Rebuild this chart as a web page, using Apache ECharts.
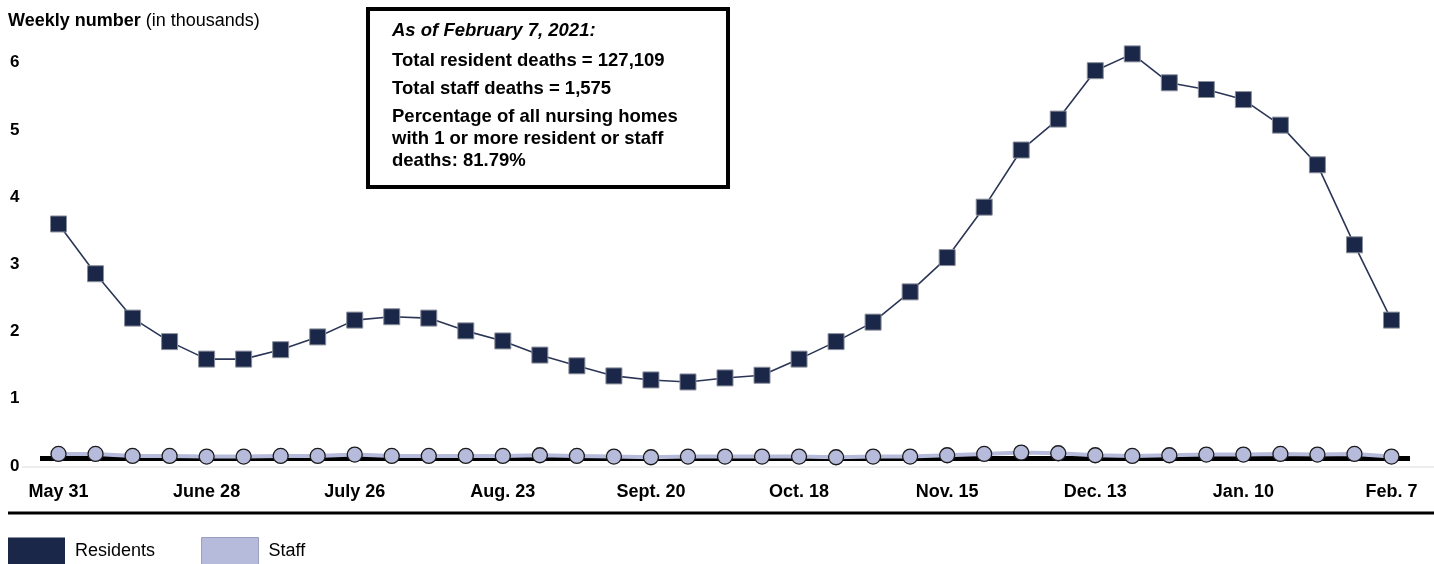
<!DOCTYPE html>
<html><head><meta charset="utf-8">
<script src="https://cdn.jsdelivr.net/npm/echarts@6/dist/echarts.min.js"></script>
<style>html,body{margin:0;padding:0;background:#fff}#c{width:1434px;height:564px}</style>
</head><body><div id="c"></div>
<script>
const weeks = ["May 31","Jun 7","Jun 14","Jun 21","June 28","Jul 5","Jul 12","Jul 19","July 26","Aug 2","Aug 9","Aug 16","Aug. 23","Aug 30","Sep 6","Sep 13","Sept. 20","Sep 27","Oct 4","Oct 11","Oct. 18","Oct 25","Nov 1","Nov 8","Nov. 15","Nov 22","Nov 29","Dec 6","Dec. 13","Dec 20","Dec 27","Jan 3","Jan. 10","Jan 17","Jan 24","Jan 31","Feb. 7"];
const residents = [3.60,2.86,2.20,1.85,1.59,1.59,1.73,1.92,2.17,2.22,2.20,2.01,1.86,1.65,1.49,1.34,1.28,1.25,1.31,1.35,1.59,1.85,2.14,2.59,3.10,3.85,4.70,5.16,5.88,6.13,5.70,5.60,5.45,5.07,4.48,3.29,2.17];
const staff = [0.18,0.18,0.15,0.15,0.14,0.14,0.15,0.15,0.17,0.15,0.15,0.15,0.15,0.16,0.15,0.14,0.13,0.14,0.14,0.14,0.14,0.13,0.14,0.14,0.16,0.18,0.20,0.19,0.16,0.15,0.16,0.17,0.17,0.18,0.17,0.18,0.14];
const baseline = 0.115;
const yTicks = [0,1,2,3,4,5,6];
const noteLines = ["As of February 7, 2021:","Total resident deaths = 127,109","Total staff deaths = 1,575","Percentage of all nursing homes","with 1 or more resident or staff","deaths: 81.79%"];

const FONT = '"Liberation Sans", Arial, sans-serif';
const chart = echarts.init(document.getElementById('c'), null, {renderer:'canvas'});
chart.setOption({
  animation:false,
  textStyle:{fontFamily:FONT},
  grid:{left:40,right:24,top:29,bottom:98},
  title:{
    text:'{b|Weekly number} {n|(in thousands)}',
    left:3, top:7,
    textStyle:{fontWeight:'normal',fontSize:18,color:'#000',fontFamily:FONT,
      rich:{b:{fontWeight:'bold',fontSize:18,color:'#000',fontFamily:FONT},n:{fontWeight:'normal',fontSize:18,color:'#000',fontFamily:FONT}}}
  },
  legend:{
    left:3, top:532, itemWidth:57, itemHeight:27, itemGap:46,
    textStyle:{fontSize:18,color:'#000',fontFamily:FONT,padding:[0,0,0,5]},
    data:[
      {name:'Residents',icon:'rect',itemStyle:{color:'#1b2749',borderColor:'#1b2749',borderWidth:0}},
      {name:'Staff',icon:'rect',itemStyle:{color:'#b7bbdb',borderColor:'#9a9dbf',borderWidth:1}}
    ]
  },
  xAxis:{
    type:'category', data:weeks, boundaryGap:true,
    axisLine:{show:false}, axisTick:{show:false},
    axisLabel:{interval:3, margin:17, fontSize:18, fontWeight:'bold', color:'#000', fontFamily:FONT}
  },
  yAxis:{
    type:'value', min:0, max:6.5, interval:1,
    splitLine:{show:false}, axisLine:{show:false}, axisTick:{show:false},
    axisLabel:{showMaxLabel:false, align:'left', margin:30, fontSize:17, fontWeight:'bold', color:'#000', fontFamily:FONT,
      formatter:v=> yTicks.includes(v) ? String(v) : ''}
  },
  series:[
    {
      name:'Staff', type:'line', data:staff, z:3,
      symbol:'circle', symbolSize:15,
      lineStyle:{color:'#b7bbdb',width:4},
      itemStyle:{color:'#b7bbdb',borderColor:'#1a1a1a',borderWidth:1.3},
      markLine:{silent:true, symbol:'none', label:{show:false},
        lineStyle:{color:'#000',width:5,type:'solid'},
        data:[{yAxis:baseline}], z:2}
    },
    {
      name:'Residents', type:'line', data:residents, z:4,
      symbol:'rect', symbolSize:16,
      lineStyle:{color:'#2b3656',width:1.6},
      itemStyle:{color:'#1b2749',borderColor:'#8a8f9c',borderWidth:1}
    }
  ],
  graphic:[
    {type:'line', shape:{x1:22,y1:467,x2:1434,y2:467}, style:{stroke:'#dcdcdc',lineWidth:1}},
    {type:'line', shape:{x1:8,y1:513,x2:1434,y2:513}, style:{stroke:'#000',lineWidth:3}},
    {type:'rect', shape:{x:368,y:9,width:360,height:178}, style:{fill:'#fff',stroke:'#000',lineWidth:4}},
    {type:'text', left:392, top:21, style:{text:noteLines[0], font:'italic bold 18.5px '+FONT, fill:'#000'}},
    {type:'text', left:392, top:51, style:{text:noteLines[1], font:'bold 18.5px '+FONT, fill:'#000'}},
    {type:'text', left:392, top:79, style:{text:noteLines[2], font:'bold 18.5px '+FONT, fill:'#000'}},
    {type:'text', left:392, top:107, style:{text:noteLines[3], font:'bold 18.5px '+FONT, fill:'#000'}},
    {type:'text', left:392, top:129, style:{text:noteLines[4], font:'bold 18.5px '+FONT, fill:'#000'}},
    {type:'text', left:392, top:151, style:{text:noteLines[5], font:'bold 18.5px '+FONT, fill:'#000'}}
  ]
});
</script></body></html>
